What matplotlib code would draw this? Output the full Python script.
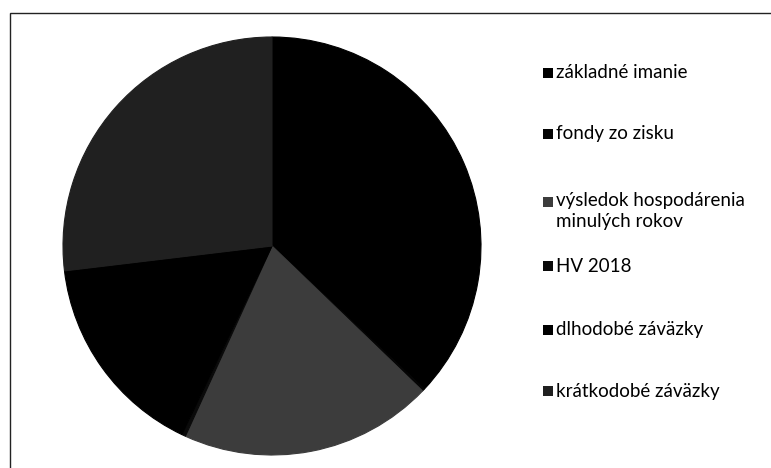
import matplotlib.pyplot as plt
from matplotlib.patches import Rectangle

# data (shares in %)
labels = ["základné imanie", "fondy zo zisku", "výsledok hospodárenia\nminulých rokov",
          "HV 2018", "dlhodobé záväzky", "krátkodobé záväzky"]
values = [37.0, 0.2, 19.6, 0.3, 16.0, 26.9]
colors = ["#000000", "#050505", "#3c3c3c", "#0a0a0a", "#000000", "#202020"]

# legend rows (figure pixels from top)
legend_y = [73, 134, 202, 266, 330, 391]

W, H = 771, 468
fig = plt.figure(figsize=(W / 100, H / 100), dpi=100)
plt.rcParams['font.family'] = ['Lato', 'DejaVu Sans']

# outer frame of the scanned chart
fig.add_artist(Rectangle((10 / W, -0.05), 1.0, 1 - 13 / H + 0.05, transform=fig.transFigure,
                         fill=False, edgecolor="#222222", linewidth=1.0))

cx, cy, r = 272, 246, 209
ax = fig.add_axes([(cx - r) / W, (H - cy - r) / H, 2 * r / W, 2 * r / H])
wedges, _ = ax.pie(values, colors=colors, startangle=90, counterclock=False)
for w, c in zip(wedges, colors):
    w.set_edgecolor(c)
    w.set_linewidth(0.8)
ax.set_xlim(-1, 1)
ax.set_ylim(-1, 1)
ax.set_aspect("equal")
ax.axis("off")

# legend drawn by hand so the rows keep their uneven spacing
for lab, col, y in zip(labels, colors, legend_y):
    fig.add_artist(Rectangle((543 / W, (H - y - 5) / H), 10 / W, 10 / H,
                             transform=fig.transFigure, facecolor=col, edgecolor="none"))
    if "\n" in lab:
        fig.text(556 / W, (H - y + 10) / H, lab, fontsize=13.5, va="top", ha="left",
                 color="black", linespacing=1.3)
    else:
        fig.text(556 / W, (H - y) / H, lab, fontsize=13.5, va="center", ha="left",
                 color="black")

fig.savefig("out.png", dpi=100)
